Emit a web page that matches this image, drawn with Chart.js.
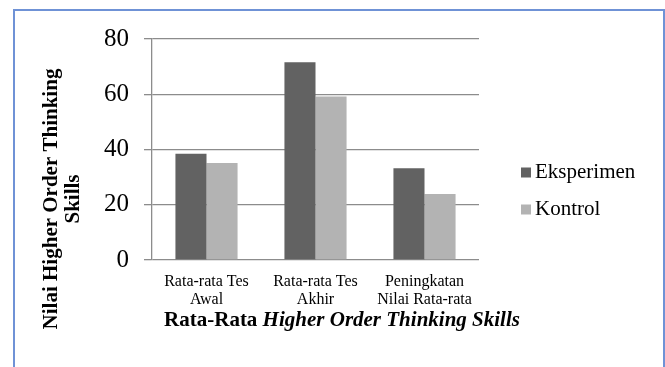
<!DOCTYPE html>
<html>
<head>
<meta charset="utf-8">
<script src="https://cdn.jsdelivr.net/npm/chart.js@4"></script>
<style>
    body { margin: 0; background: #fff; overflow: hidden; }
    #wrap { position: relative; width: 665px; height: 367px; }
    #frame {
        position: absolute; left: 13px; top: 9px; width: 648px; height: 400px;
        border: 2px solid #6f92d6; border-bottom: none;
    }
    canvas { position: absolute; left: 0; top: 0; }
</style>
</head>
<body>
<div id="wrap">
    <div id="frame"></div>
    <canvas id="chart" width="665" height="367"></canvas>
</div>
<script>
// Data
const categories = [['Rata-rata Tes', 'Awal'], ['Rata-rata Tes', 'Akhir'], ['Peningkatan', 'Nilai Rata-rata']];
const eksperimen = [38.5, 71.6, 33.2];
const kontrol = [35.1, 59.2, 23.9];
const seriesNames = ['Eksperimen', 'Kontrol'];
const yTicks = [0, 20, 40, 60, 80];

const serif = '"Times New Roman", "Liberation Serif", serif';

// Axis titles and legend drawn by hand (mixed bold / italic text)
const extras = {
    id: 'extras',
    afterDraw(chart) {
        const ctx = chart.ctx;
        ctx.save();
        ctx.fillStyle = '#000';

        // y title, two lines, rotated
        ctx.save();
        ctx.translate(0, 199);
        ctx.rotate(-Math.PI / 2);
        ctx.font = 'bold 21px ' + serif;
        ctx.textAlign = 'center';
        ctx.textBaseline = 'middle';
        ctx.fillText('Nilai Higher Order Thinking', 0, 52);
        ctx.fillText('Skills', 0, 74);
        ctx.restore();

        // x title
        const partA = 'Rata-Rata ';
        const partB = 'Higher Order Thinking Skills';
        ctx.font = 'bold 21px ' + serif;
        const wA = ctx.measureText(partA).width;
        ctx.font = 'italic bold 21px ' + serif;
        const wB = ctx.measureText(partB).width;
        let x = 342 - (wA + wB) / 2;
        ctx.textBaseline = 'alphabetic';
        ctx.textAlign = 'left';
        ctx.font = 'bold 21px ' + serif;
        ctx.fillText(partA, x, 326);
        ctx.font = 'italic bold 21px ' + serif;
        ctx.fillText(partB, x + wA, 326);

        // legend
        ctx.font = '21px ' + serif;
        ctx.textBaseline = 'middle';
        chart.data.datasets.forEach((ds, i) => {
            const cy = 172.5 + i * 37;
            ctx.fillStyle = ds.backgroundColor;
            ctx.fillRect(521, cy - 5, 10, 10);
            ctx.fillStyle = '#000';
            ctx.fillText(ds.label, 535, cy);
        });
        ctx.restore();
    }
};

new Chart(document.getElementById('chart'), {
    type: 'bar',
    data: {
        labels: categories,
        datasets: [
            { label: seriesNames[0], data: eksperimen, backgroundColor: '#626262' },
            { label: seriesNames[1], data: kontrol, backgroundColor: '#b3b3b3' }
        ]
    },
    options: {
        responsive: false,
        animation: false,
        categoryPercentage: 0.57,
        barPercentage: 1,
        layout: { padding: { left: 0, top: 39, right: 186, bottom: 0 } },
        plugins: {
            legend: { display: false },
            tooltip: { enabled: false }
        },
        scales: {
            x: {
                grid: { display: false, drawTicks: false },
                border: { display: false },
                ticks: {
                    color: '#000',
                    padding: 13,
                    maxRotation: 0,
                    font: { family: serif, size: 16, lineHeight: 1.1 }
                },
                afterFit(scale) { scale.height = 107; }
            },
            y: {
                min: 0,
                max: 80,
                afterBuildTicks(scale) { scale.ticks = yTicks.map(v => ({ value: v })); },
                grid: { color: '#8c8c8c', tickLength: 8, lineWidth: 1.3 },
                border: { color: '#8c8c8c', width: 1.3 },
                ticks: {
                    color: '#000',
                    padding: 15,
                    font: { family: serif, size: 25 }
                },
                afterFit(scale) { scale.width = 152; }
            }
        }
    },
    plugins: [extras]
});
</script>
</body>
</html>
